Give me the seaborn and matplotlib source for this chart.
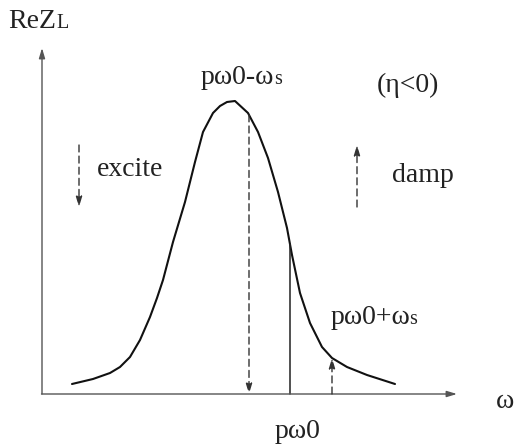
import matplotlib
matplotlib.use("Agg")
import matplotlib.pyplot as plt
import seaborn as sns
import pandas as pd
import numpy as np

# curve of Re Z_L versus omega (arbitrary units)
omega = [72, 93, 110, 120, 130, 140, 150, 157, 163, 173, 185, 195, 203, 213, 220, 227,
         235, 248, 258, 268, 278, 287, 292, 300, 310, 322, 332, 347, 367, 395]
rez = [10, 15, 21, 27, 37, 54, 77, 96, 114, 152, 192, 232, 262, 281, 288, 292,
       293, 281, 262, 236, 202, 166, 139, 101, 71, 47, 36, 27, 19, 10]

# marker frequencies
w_minus = 249   # p w0 - ws
w_zero = 290    # p w0
w_plus = 332    # p w0 + ws

sns.set_style("white")
plt.rcParams['font.family'] = ['Liberation Serif', 'DejaVu Serif']

df = pd.DataFrame({"omega": omega, "rez": rez})

fig = plt.figure(figsize=(5.17, 4.46), dpi=100)
ax = fig.add_axes([0, 0, 1, 1])
ax.set_xlim(0, 517)
ax.set_ylim(-52, 394)
ax.axis('off')

sns.lineplot(data=df, x="omega", y="rez", ax=ax, color="#111111", lw=1.5, sort=False)

axis_col = "#555555"
arr = dict(arrowstyle="-|>,head_length=0.6,head_width=0.18", color=axis_col, lw=1.0, shrinkA=0, shrinkB=0)
# axes
ax.annotate("", xy=(42, 346), xytext=(42, 0), arrowprops=arr)
ax.annotate("", xy=(457, 0), xytext=(41.5, 0), arrowprops=arr)

def y_at(x):
    return float(np.interp(x, omega, rez))

dash = dict(arrowstyle="-|>,head_length=0.6,head_width=0.18", color="#333333", lw=1.0,
            linestyle=(0, (5, 3)), shrinkA=0, shrinkB=0)
ax.annotate("", xy=(w_minus, 0), xytext=(w_minus, y_at(w_minus)), arrowprops=dash)
ax.plot([w_zero, w_zero], [0, y_at(w_zero)], color="#222222", lw=1.1)
ax.annotate("", xy=(w_plus, y_at(w_plus)), xytext=(w_plus, 0), arrowprops=dash)
# excite / damp arrows
ax.annotate("", xy=(79, 187), xytext=(79, 249), arrowprops=dash)
ax.annotate("", xy=(357, 249), xytext=(357, 187), arrowprops=dash)

fs = 20
col = "#222222"
ax.text(56, 372, "ReZ", fontsize=fs, ha='right', va='center', color=col)
ax.text(56, 370, "L", fontsize=fs * 0.72, ha='left', va='center', color=col)
ax.text(237, 317, "pω0-ω", fontsize=fs, ha='center', va='center', color=col)
ax.text(274.5, 315, "s", fontsize=fs * 0.72, ha='left', va='center', color=col)
ax.text(408, 309, "(η<0)", fontsize=fs, ha='center', va='center', color=col)
ax.text(130, 224, "excite", fontsize=fs, ha='center', va='center', color=col)
ax.text(423, 218, "damp", fontsize=fs, ha='center', va='center', color=col)
ax.text(370, 76, "pω0+ω", fontsize=fs, ha='center', va='center', color=col)
ax.text(409.5, 74, "s", fontsize=fs * 0.72, ha='left', va='center', color=col)
ax.text(505, -8, "ω", fontsize=fs, ha='center', va='center', color=col)
ax.text(298, -38, "pω0", fontsize=fs, ha='center', va='center', color=col)

fig.savefig("out.png", dpi=100, facecolor="white")
